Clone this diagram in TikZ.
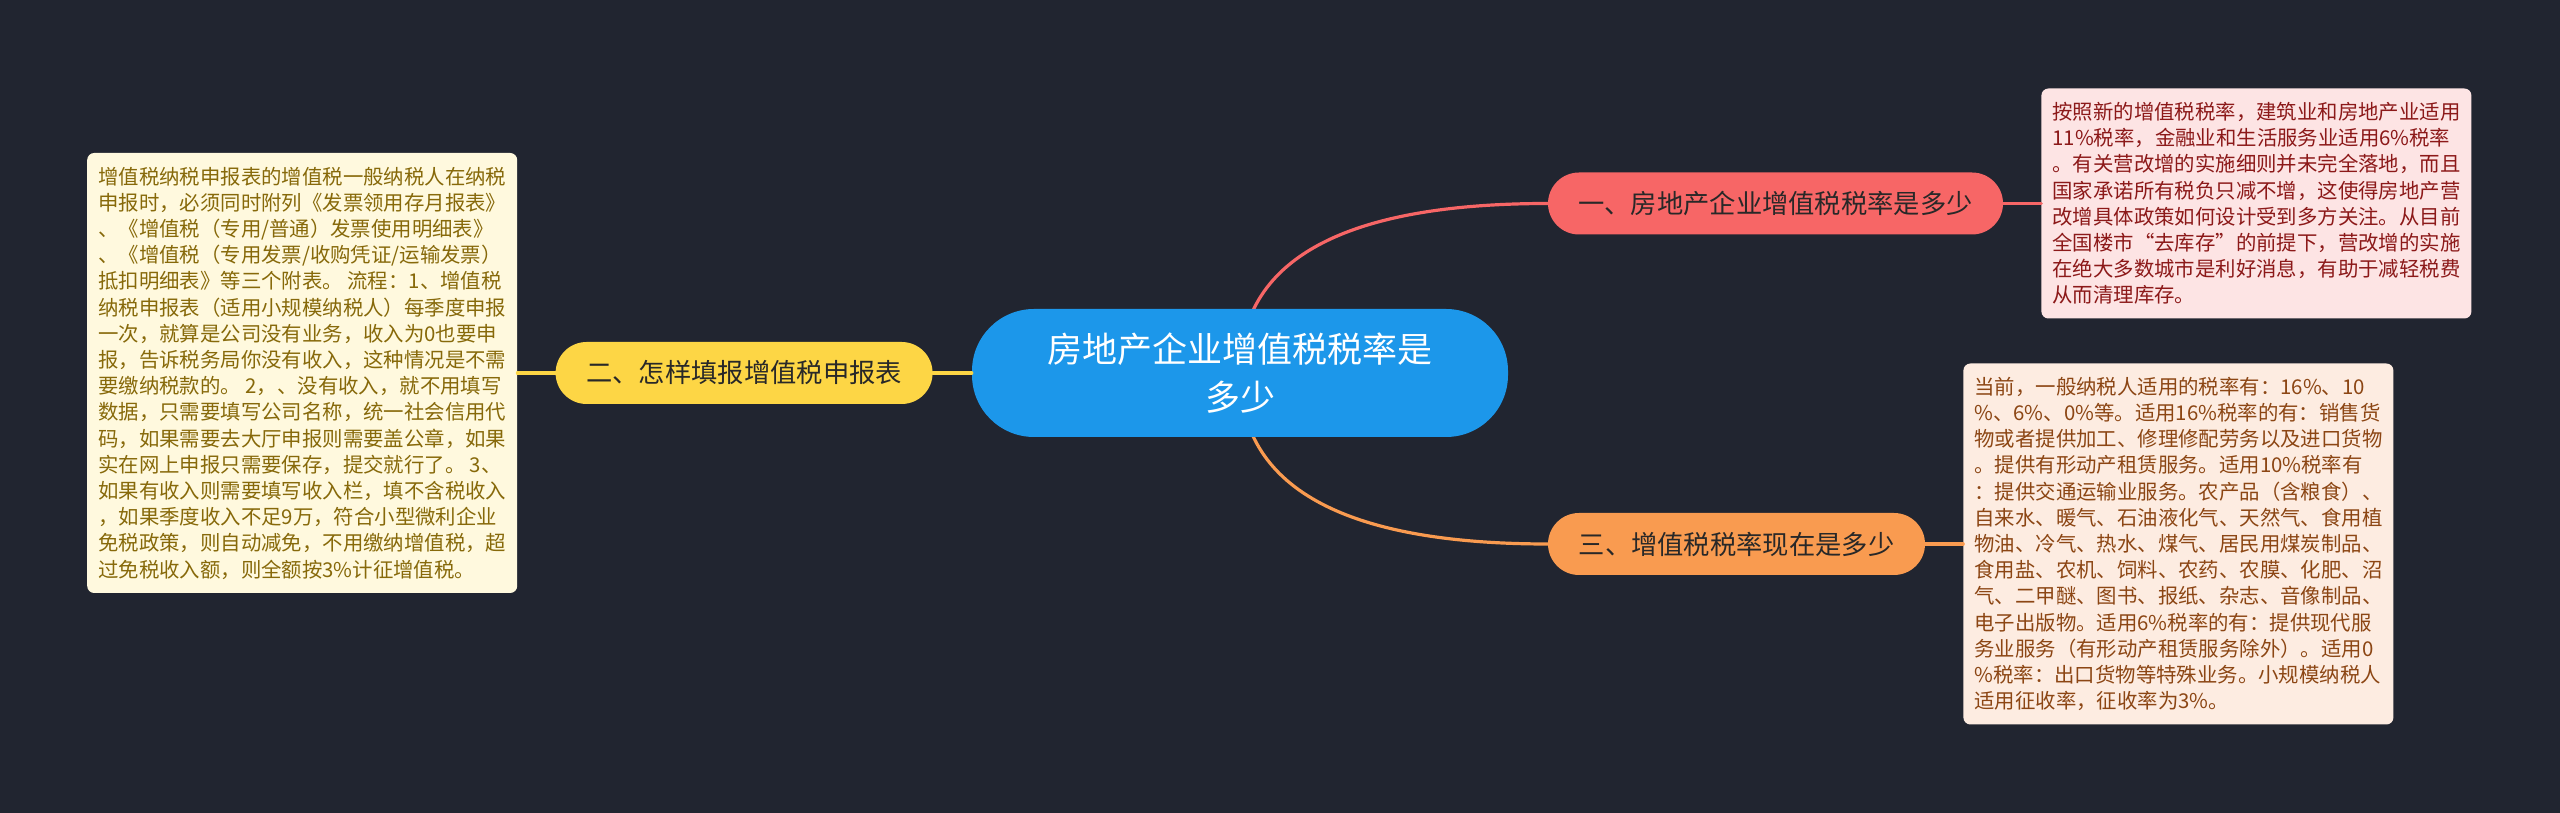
\documentclass[tikz,border=0pt]{standalone}
\usepackage{fontspec}
\setmainfont{Noto Sans CJK SC}
\usepackage{tikz}
\usetikzlibrary{backgrounds}
\usetikzlibrary{positioning}
\usetikzlibrary{calc}
\definecolor{bgdark}{RGB}{33,37,48}
\definecolor{rootblue}{RGB}{28,151,234}
\definecolor{qyellow}{RGB}{253,214,69}
\definecolor{qred}{RGB}{247,102,102}
\definecolor{qorange}{RGB}{249,155,80}
\definecolor{ayellow}{RGB}{255,249,222}
\definecolor{apink}{RGB}{253,228,228}
\definecolor{apeach}{RGB}{253,236,225}
\definecolor{tolive}{RGB}{135,105,10}
\definecolor{tred}{RGB}{140,25,25}
\definecolor{tbrown}{RGB}{140,70,20}
\definecolor{tdark}{RGB}{40,40,40}
\pgfdeclarelayer{edges}
\pgfsetlayers{background,edges,main}

\begin{document}
\begin{tikzpicture}[
            x = 1pt, y = 1pt % one unit is one pixel
        ]

        \tikzstyle{branch}=[
            draw = none,
            rounded corners = 31pt,
            minimum height = 62pt,
            inner xsep = 20pt,
            text = tdark,
            font = \fontsize{26.3}{30}\selectfont
        ]
        \tikzstyle{answer}=[
            draw = none,
            rounded corners = 7pt,
            minimum width = 430pt,
            inner xsep = 10pt,
            inner ysep = 4pt,
            align = left,
            font = \fontsize{20.4}{26.2}\selectfont
        ]
        \tikzstyle{link}=[
            line width = 3.2pt,
            line cap = round
        ]

        \begin{scope}[on background layer]
        \fill[bgdark] (0,0) rectangle (2560,813);
        \end{scope}

	% root
        \node[fill=rootblue, text=white, rounded corners=62pt, minimum width=536pt,
              minimum height=128pt, align=center,
              font=\fontsize{35}{48}\selectfont] (R) at (1240,440)
              {房地产企业增值税税率是\\多少};

	% questions
        \node[branch, fill=qyellow, minimum width=377pt] (Q2) [left=39pt of R] {二、怎样填报增值税申报表};
        \node[branch, fill=qred, minimum width=455pt] (Q1) at (1775.5,609.5) {一、房地产企业增值税税率是多少};
        \node[branch, fill=qorange, minimum width=377pt] (Q3) at (1736.5,269) {三、增值税税率现在是多少};

	% answers
        \node[answer, fill=ayellow, text=tolive, minimum height=440pt] (A2) [left=38pt of Q2] {%
增值税纳税申报表的增值税一般纳税人在纳税\\
申报时，必须同时附列《发票领用存月报表》\\
、《增值税（专用/普通）发票使用明细表》\\
、《增值税（专用发票/收购凭证/运输发票）\\
抵扣明细表》等三个附表。 流程：1、增值税\\
纳税申报表（适用小规模纳税人）每季度申报\\
一次，就算是公司没有业务，收入为0也要申\\
报，告诉税务局你没有收入，这种情况是不需\\
要缴纳税款的。 2，、没有收入，就不用填写\\
数据，只需要填写公司名称，统一社会信用代\\
码，如果需要去大厅申报则需要盖公章，如果\\
实在网上申报只需要保存，提交就行了。 3、\\
如果有收入则需要填写收入栏，填不含税收入\\
，如果季度收入不足9万，符合小型微利企业\\
免税政策，则自动减免，不用缴纳增值税，超\\
过免税收入额，则全额按3\%计征增值税。};

        \node[answer, fill=apink, text=tred, minimum height=230pt] (A1) [right=38pt of Q1] {%
按照新的增值税税率，建筑业和房地产业适用\\
11\%税率，金融业和生活服务业适用6\%税率\\
。有关营改增的实施细则并未完全落地，而且\\
国家承诺所有税负只减不增，这使得房地产营\\
改增具体政策如何设计受到多方关注。从目前\\
全国楼市“去库存”的前提下，营改增的实施\\
在绝大多数城市是利好消息，有助于减轻税费\\
从而清理库存。};

        \node[answer, fill=apeach, text=tbrown, minimum height=361pt] (A3) [right=38pt of Q3] {%
当前，一般纳税人适用的税率有：16\%、10\\
\%、6\%、0\%等。适用16\%税率的有：销售货\\
物或者提供加工、修理修配劳务以及进口货物\\
。提供有形动产租赁服务。适用10\%税率有\\
：提供交通运输业服务。农产品（含粮食）、\\
自来水、暖气、石油液化气、天然气、食用植\\
物油、冷气、热水、煤气、居民用煤炭制品、\\
食用盐、农机、饲料、农药、农膜、化肥、沼\\
气、二甲醚、图书、报纸、杂志、音像制品、\\
电子出版物。适用6\%税率的有：提供现代服\\
务业服务（有形动产租赁服务除外）。适用0\\
\%税率：出口货物等特殊业务。小规模纳税人\\
适用征收率，征收率为3\%。};

        % connectors (quadratic curves, corner at R |- Q)
        \begin{pgfonlayer}{edges}
        \draw[link, qred] (R.center)
            .. controls ($(R.center)!2/3!(R.center |- Q1.west)$)
            and ($(Q1.west)!2/3!(R.center |- Q1.west)$) .. (Q1.west);
        \draw[link, qorange] (R.center)
            .. controls ($(R.center)!2/3!(R.center |- Q3.west)$)
            and ($(Q3.west)!2/3!(R.center |- Q3.west)$) .. (Q3.west);
        \end{pgfonlayer}

        \path[link, draw=qyellow] (R) edge node {} (Q2);
        \path[link, draw=qyellow] (Q2) edge node {} (A2);
        \path[link, draw=qred] (Q1) edge node {} (A1);
        \path[link, draw=qorange] (Q3) edge node {} (A3);

  \end{tikzpicture}
\end{document}
